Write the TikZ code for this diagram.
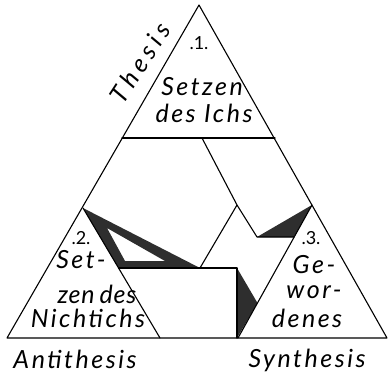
\documentclass[tikz,border=0pt]{standalone}
\usepackage{fontspec}
\setmainfont{Lato}
\begin{document}
\begin{tikzpicture}[x=1pt,y=-1pt, line width=1.1pt, line join=round, line cap=round,
  lbl/.style={font=\fontsize{25}{27}\selectfont\itshape\addfontfeature{LetterSpace=10}, inner sep=0pt, anchor=center},
  num/.style={font=\fontsize{18}{20}\selectfont, inner sep=0pt, anchor=center}]
\definecolor{darkfill}{HTML}{2E2E2E}
\useasboundingbox (0,0) rectangle (388,374);
% main points
\coordinate (A) at (199,5);
\coordinate (L) at (7,338);
\coordinate (R) at (387,338);
\coordinate (T1) at (122,138);
\coordinate (T2) at (275,138);
\coordinate (P2) at (83,208);
\coordinate (Q2) at (160,338);
\coordinate (P3) at (312,205);
\coordinate (Q3) at (238,338);
% inner points
\coordinate (M1) at (202,138);
\coordinate (J) at (237,205);
\coordinate (K) at (257,237);
\coordinate (K2) at (294,237);
\coordinate (N) at (200,268);
\coordinate (E) at (118.5,268);
\coordinate (V) at (237,268);
\coordinate (VB) at (237,338);
\coordinate (D2) at (257.5,303);
\coordinate (H1) at (107,228);
\coordinate (H2) at (165,261);
\coordinate (H3) at (125,261);
% dark fills
\fill[darkfill, even odd rule] (P2)--(N)--(E)--cycle (H1)--(H2)--(H3)--cycle;
\fill[darkfill] (K)--(P3)--(K2)--cycle;
\fill[darkfill] (V)--(D2)--(VB)--cycle;
% lines
\draw (A)--(L)--(R)--cycle;
\draw (T1)--(T2);
\draw (P2)--(Q2);
\draw (P3)--(Q3);
\draw (M1)--(J)--(K)--(K2);
\draw (J)--(N);
\draw (E)--(V)--(VB);
% labels
\node[lbl, rotate=57, font=\fontsize{25}{27}\selectfont\itshape\addfontfeature{LetterSpace=20}] (th) at (140,63) {Thesis};
\node[num] (n1) at (199,43) {.1.};
\node[lbl] (s1) at (202,87) {Setzen};
\node[lbl] (s2) at (204,113) {des Ichs};
\node[num] (n2) at (81,238) {.2.};
\node[lbl] (a1) at (81,260) {Set-};
\node[lbl, font=\fontsize{25}{27}\selectfont\itshape\addfontfeature{LetterSpace=3}] (a2) at (97,294) {zen\hspace{5pt}des};
\node[lbl] (a3) at (88,318) {Nichtichs};
\node[num] (n3) at (311,238) {.3.};
\node[lbl] (b1) at (314,265) {Ge-};
\node[lbl] (b2) at (314,292) {wor-};
\node[lbl] (b3) at (307,318) {denes};
\node[lbl] (an) at (75,359) {Antithesis};
\node[lbl] (sy) at (307,360) {Synthesis};
\end{tikzpicture}
\end{document}
